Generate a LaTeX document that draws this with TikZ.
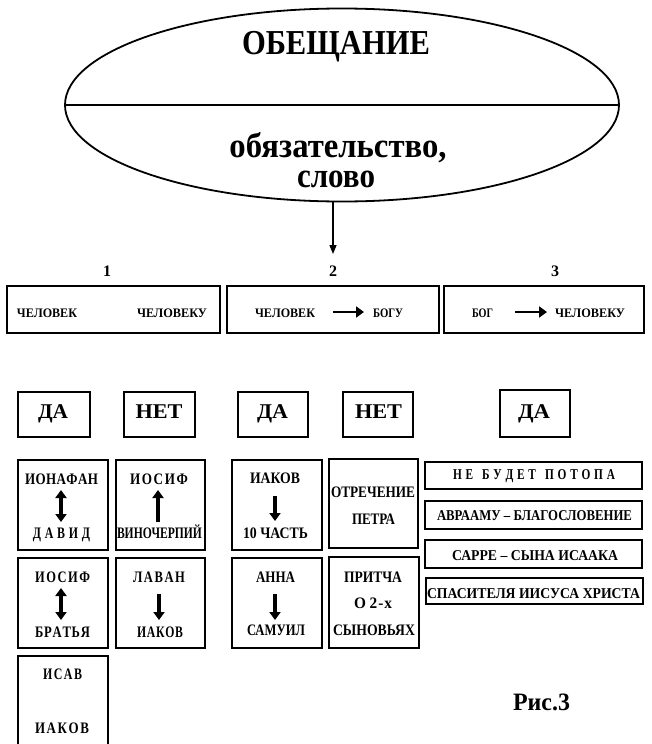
\documentclass[tikz,border=0pt]{standalone}
\usepackage{fontspec}
\setmainfont{Liberation Serif}
\usepackage{graphicx}
\usetikzlibrary{arrows.meta,shapes.geometric}
\newcommand\tw[3]{\resizebox{#1pt}{\height}{\fontsize{#2}{#2}\selectfont\bfseries #3}}
\newcommand\ks{\kern2pt}
\newcommand\kw{\kern5pt}
\begin{document}
\begin{tikzpicture}[x=1pt,y=-1pt,
  bx/.style={draw, line width=2.8pt, rectangle, inner sep=0},
  yn/.style={draw, line width=2.4pt, rectangle, inner sep=0, minimum height=45pt},
  txt/.style={anchor=base, inner sep=0},
  arr/.style={line width=3.4pt, -{Triangle[length=8pt,width=11pt]}},
  darr/.style={line width=3.4pt, {Triangle[length=8pt,width=11pt]}-{Triangle[length=8pt,width=11pt]}}]
\useasboundingbox (0,0) rectangle (651,744);
\clip (0,0) rectangle (651,744);
% ellipse
\node[draw, ellipse, line width=1.8pt, minimum width=554pt, minimum height=193pt, inner sep=0] (ell) at (342,105) {};
\draw[line width=1.8pt] (ell.west) -- (ell.east);
\node[txt] (t0) at (336,54) {\tw{188}{35}{ОБЕЩАНИЕ}};
\node[txt] (t1) at (338,157) {\tw{217}{35}{обязательство,}};
\node[txt] (t2) at (336,187) {\tw{78}{35}{слово}};
% numbers
\node[txt] (n1) at (107,276) {\fontsize{16}{16}\selectfont\bfseries 1};
\node[txt] (n2) at (333,276) {\fontsize{16}{16}\selectfont\bfseries 2};
\node[txt] (n3) at (555,276) {\fontsize{16}{16}\selectfont\bfseries 3};
\coordinate (tip) at (333,254);
\draw[line width=1.4pt, -{Triangle[length=9pt,width=7pt]}] (tip |- ell.south) -- (tip);
% top row boxes
\node[bx, minimum width=213pt, minimum height=47pt] (b1) at (113.5,309.5) {};
\node[bx, minimum width=212pt, minimum height=47pt] (b2) at (333,309.5) {};
\node[bx, minimum width=200pt, minimum height=47pt] (b3) at (544,309.5) {};
\node[txt] (b1a) at (47,317) {\tw{60}{13}{ЧЕЛОВЕК}};
\node[txt] (b1b) at (172,317) {\tw{70}{13}{ЧЕЛОВЕКУ}};
\node[txt] (b2a) at (285,317) {\tw{60}{13}{ЧЕЛОВЕК}};
\node[txt] (b2b) at (388,317) {\tw{30}{13}{БОГУ}};
\node[txt] (b3a) at (482.5,317) {\tw{21}{13}{БОГ}};
\node[txt] (b3b) at (590,317) {\tw{70}{13}{ЧЕЛОВЕКУ}};
\coordinate (a2s) at (333,312); \coordinate (a2e) at (364,312);
\coordinate (a3s) at (515,312); \coordinate (a3e) at (547,312);
\draw[arr, line width=2.8pt] (a2s) -- (a2e);
\draw[arr, line width=2.8pt] (a3s) -- (a3e);
% yes/no
\node[yn, minimum width=72pt] (y1) at (54,414.5) {};
\node[yn, minimum width=71pt] (no1) at (159.5,414.5) {};
\node[yn, minimum width=70pt] (y2) at (273,414.5) {};
\node[yn, minimum width=70pt] (no2) at (378,414.5) {};
\node[yn, minimum width=70pt, minimum height=47pt] (y3) at (535,413.5) {};
\node[txt] at (53,418) {\tw{30}{21}{ДА}};
\node[txt] at (159,418) {\tw{47}{21}{НЕТ}};
\node[txt] at (272.5,418) {\tw{31}{21}{ДА}};
\node[txt] at (378.5,418) {\tw{47}{21}{НЕТ}};
\node[txt] at (534,418) {\tw{32}{21}{ДА}};
% lower boxes row 1
\node[bx, minimum width=90pt, minimum height=90pt] (A1) at (63,505) {};
\node[bx, minimum width=89pt, minimum height=90pt] (B1) at (160.5,505) {};
\node[bx, minimum width=90pt, minimum height=90pt] (C1) at (277,505) {};
\node[bx, minimum width=89pt, minimum height=89pt] (D1) at (373.5,503.5) {};
\node[txt] (A1a) at (61.5,484) {\tw{73}{16}{И\kern.5ptО\kern.5ptН\kern.5ptА\kern.5ptФ\kern.5ptА\kern.5ptН}};
\node[txt] (A1b) at (61.5,538) {\tw{57}{16}{Д\kw А\kw В\kw И\kw Д}};
\node[txt] (B1a) at (159,484) {\tw{58}{16}{И\ks О\ks С\ks И\ks Ф}};
\node[txt] (B1b) at (159.5,538) {\tw{85}{16}{ВИНОЧЕРПИЙ}};
\node[txt] (C1a) at (275,483) {\tw{50}{16}{ИАКОВ}};
\node[txt] (C1b) at (275.5,538) {\tw{65}{16}{10 ЧАСТЬ}};
\node[txt] (D1a) at (373,497) {\tw{84}{16}{ОТРЕЧЕНИЕ}};
\node[txt] (D1b) at (373.5,524) {\tw{43}{16}{ПЕТРА}};
\coordinate (pA1t) at (61,490); \coordinate (pA1b) at (61,522);
\coordinate (pB1t) at (158,490); \coordinate (pB1b) at (158,522);
\coordinate (pC1t) at (275,496); \coordinate (pC1b) at (275,521);
\draw[darr] (pA1t) -- (pA1b);
\draw[arr] (pB1b) -- (pB1t);
\draw[arr] (pC1t) -- (pC1b);
% lower boxes row 2
\node[bx, minimum width=90pt, minimum height=90pt] (A2) at (63,603) {};
\node[bx, minimum width=89pt, minimum height=90pt] (B2) at (160.5,603) {};
\node[bx, minimum width=90pt, minimum height=90pt] (C2) at (277,603) {};
\node[bx, minimum width=90pt, minimum height=91pt] (D2) at (374,602.5) {};
\node[txt] (A2a) at (62.5,582) {\tw{55}{16}{И\ks О\ks С\ks И\ks Ф}};
\node[txt] (A2b) at (62.5,637) {\tw{55}{16}{Б\kern1ptР\kern1ptА\kern1ptТ\kern1ptЬ\kern1ptЯ}};
\node[txt] (B2a) at (159,582) {\tw{52}{16}{Л\ks А\ks В\ks А\ks Н}};
\node[txt] (B2b) at (160,637) {\tw{46}{16}{И\kern1ptА\kern1ptК\kern1ptО\kern1ptВ}};
\node[txt] (C2a) at (275.5,582) {\tw{39}{16}{АННА}};
\node[txt] (C2b) at (276,635) {\tw{58}{16}{САМУИЛ}};
\node[txt] (D2a) at (373,582) {\tw{58}{16}{ПРИТЧА}};
\node[txt] (D2b) at (373,608) {\tw{38}{16}{О\kern4pt 2\kern1pt-\kern1ptх}};
\node[txt] (D2c) at (374,635) {\tw{82}{16}{СЫНОВЬЯХ}};
\coordinate (pA2t) at (61,588); \coordinate (pA2b) at (61,620);
\coordinate (pB2t) at (159,594); \coordinate (pB2b) at (159,620);
\coordinate (pC2t) at (275,594); \coordinate (pC2b) at (275,620);
\draw[darr] (pA2t) -- (pA2b);
\draw[arr] (pB2t) -- (pB2b);
\draw[arr] (pC2t) -- (pC2b);
% row 3
\node[bx, minimum width=90pt, minimum height=104pt] (A3) at (63,708) {};
\node[txt] (A3a) at (62.5,679) {\tw{39}{16}{И\ks С\ks А\ks В}};
\node[txt] (A3b) at (62,733) {\tw{54}{16}{И\ks А\ks К\ks О\ks В}};
% right list
\node[bx, minimum width=217pt, minimum height=27pt] (r1) at (533.5,475.5) {};
\node[bx, minimum width=217pt, minimum height=28pt] (r2) at (533.5,515) {};
\node[bx, minimum width=217pt, minimum height=28pt] (r3) at (533.5,554) {};
\node[bx, minimum width=217pt, minimum height=26pt] (r4) at (534.5,591) {};
\node[txt] at (534,479) {\tw{162}{15}{Н\kw Е\kern12pt Б\kw У\kw Д\kw Е\kw Т\kern12pt П\kw О\kw Т\kw О\kw П\kw А}};
\node[txt] at (534.5,520) {\tw{195}{15}{АВРААМУ – БЛАГОСЛОВЕНИЕ}};
\node[txt] at (535,560) {\tw{166}{15}{САРРЕ – СЫНА ИСААКА}};
\node[txt] at (533.5,598) {\tw{213}{15}{СПАСИТЕЛЯ ИИСУСА ХРИСТА}};
% caption
\node[txt] (cap) at (541.5,710) {\tw{57}{25}{Рис.3}};
\end{tikzpicture}
\end{document}
